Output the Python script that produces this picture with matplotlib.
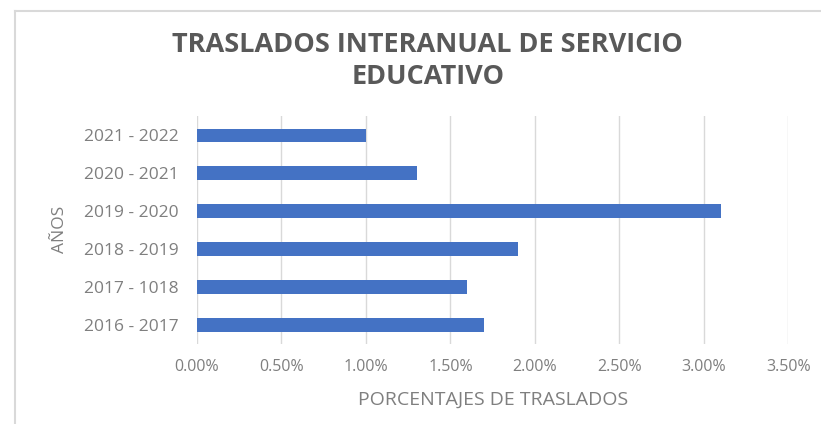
import matplotlib.pyplot as plt
from matplotlib.lines import Line2D
from matplotlib.ticker import FuncFormatter

# Data
periodos = ['2016 - 2017', '2017 - 1018', '2018 - 2019', '2019 - 2020', '2020 - 2021', '2021 - 2022']
porcentajes = [1.7, 1.6, 1.9, 3.1, 1.3, 1.0]
ticks_x = [0.0, 0.5, 1.0, 1.5, 2.0, 2.5, 3.0, 3.5]

TITULO = 'TRASLADOS INTERANUAL DE SERVICIO\nEDUCATIVO'
ETIQUETA_X = 'PORCENTAJES DE TRASLADOS'
ETIQUETA_Y = 'AÑOS'

plt.rcParams['font.family'] = ['Open Sans', 'DejaVu Sans']
GRIS = '#7f7f7f'

fig = plt.figure(figsize=(8.21, 4.24), dpi=100)
ax = fig.add_axes([0.24, 0.189, 0.72, 0.537])

ax.barh(range(len(periodos)), porcentajes, height=0.35, color='#4472C4', zorder=3)

ax.set_xlim(0, 3.5)
ax.set_ylim(-0.5, len(periodos) - 0.5)
ax.set_xticks(ticks_x)
ax.xaxis.set_major_formatter(FuncFormatter(lambda v, p: f'{v:.2f}%'))
ax.set_yticks(range(len(periodos)))
ax.set_yticklabels(periodos)

ax.grid(axis='x', color='#d9d9d9', linewidth=1, zorder=0)
for s in ax.spines.values():
    s.set_visible(False)
ax.tick_params(axis='both', length=0, colors=GRIS)
ax.tick_params(axis='x', pad=11, labelsize=11.5)
ax.tick_params(axis='y', pad=13, labelsize=12.5)

ax.set_xlabel(ETIQUETA_X, color=GRIS, fontsize=14, labelpad=11)
fig.text(60 / 821, 1 - 229 / 424, ETIQUETA_Y, ha='center', va='center',
         rotation=90, color=GRIS, fontsize=12.5)

fig.text(0.521, 1 - 61 / 424, TITULO, ha='center', va='center', fontsize=19.5,
         fontweight='bold', color='#595959', linespacing=1.3)

# chart area border (top and left)
fig.add_artist(Line2D([15 / 821, 1], [1 - 11 / 424, 1 - 11 / 424], color='#d9d9d9', linewidth=1.5))
fig.add_artist(Line2D([15 / 821, 15 / 821], [0, 1 - 11 / 424], color='#d9d9d9', linewidth=1.5))

fig.savefig('out.png', dpi=100, facecolor='white')
